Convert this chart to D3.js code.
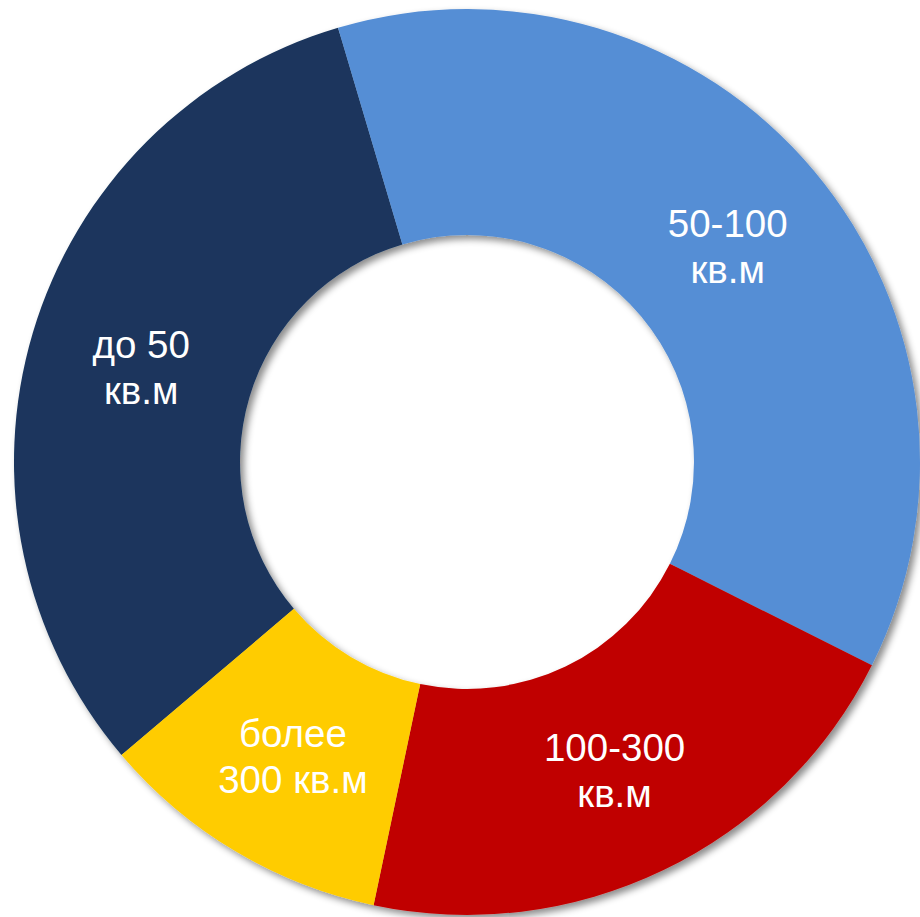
<html>
<head>
<meta charset="utf-8">
<script src="https://d3js.org/d3.v7.min.js"></script>
<style>
  body { margin: 0; background: #fff; }
  text { font-family: "Liberation Sans", Arial, sans-serif; }
</style>
</head>
<body>
<div id="container"></div>
<script>
// data (share of each size group, %)
var categories = ["до 50", "50-100", "100-300", "более 300"];
var values = [31.6, 37, 20.9, 10.5];
var labelLines = [["до 50", "кв.м"], ["50-100", "кв.м"], ["100-300", "кв.м"], ["более", "300 кв.м"]];
var colors = ["#1a365d", "#558ed5", "#c00000", "#ffcc00"];

var width = 920, height = 917;
var cx = 467, cy = 462,
    outerR = 453, innerR = 227;

var svg = d3.select("#container").append("svg")
  .attr("width", width)
  .attr("height", height);

var defs = svg.append("defs");
var f = defs.append("filter").attr("id", "shadow")
  .attr("x", "-10%").attr("y", "-10%").attr("width", "120%").attr("height", "120%");
f.append("feDropShadow")
  .attr("dx", 4).attr("dy", 4)
  .attr("stdDeviation", 3.5)
  .attr("flood-color", "#000")
  .attr("flood-opacity", 0.45);

var data = categories.map(function(c, i) {
  return { name: c, value: values[i], lines: labelLines[i], color: colors[i] };
});

// first slice (до 50) starts at about -130 degrees from 12 o'clock
var pie = d3.pie()
  .sort(null)
  .value(function(d) { return d.value; })
  .startAngle(-130.3 * Math.PI / 180)
  .endAngle((360 - 130.3) * Math.PI / 180);

var arc = d3.arc().innerRadius(innerR).outerRadius(outerR);

var g = svg.append("g").attr("transform", "translate(" + cx + "," + cy + ")");

var arcs = pie(data);

g.append("g")
  .attr("filter", "url(#shadow)")
  .selectAll("path")
  .data(arcs)
  .join("path")
  .attr("d", arc)
  .attr("fill", function(d) { return d.data.color; });

var labels = g.selectAll("text.lbl")
  .data(arcs)
  .join("text")
  .attr("class", "lbl")
  .attr("text-anchor", "middle")
  .attr("fill", "#fff")
  .attr("font-size", "38.5px")
  .attr("transform", function(d) {
    var c = arc.centroid(d);
    return "translate(" + c[0] + "," + c[1] + ")";
  });

labels.selectAll("tspan")
  .data(function(d) { return d.data.lines; })
  .join("tspan")
  .attr("x", 0)
  .attr("y", function(d, i) { return i === 0 ? -7 : 39; })
  .text(function(d) { return d; });
</script>
</body>
</html>
